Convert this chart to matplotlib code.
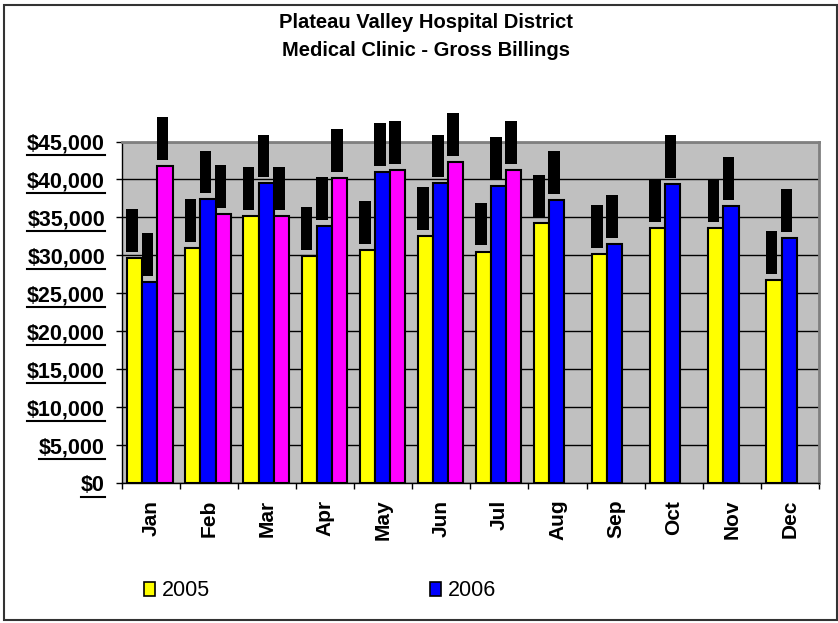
import numpy as np
import matplotlib
matplotlib.use('Agg')
import matplotlib.pyplot as plt
from matplotlib.lines import Line2D
from matplotlib.patches import Rectangle, Patch
from matplotlib.ticker import FuncFormatter, MultipleLocator
from matplotlib.transforms import IdentityTransform

plt.rcParams['font.family'] = ['Liberation Sans', 'DejaVu Sans']

months = ['Jan', 'Feb', 'Mar', 'Apr', 'May', 'Jun', 'Jul', 'Aug', 'Sep', 'Oct', 'Nov', 'Dec']
y2005 = [29700, 31000, 35200, 29950, 30700, 32600, 30500, 34200, 30200, 33600, 33600, 26800]
y2006 = [26500, 37400, 39500, 33900, 41000, 39500, 39200, 37300, 31500, 39400, 36500, 32300]
y2007 = [41800, 35500, 35200, 40200, 41300, 42350, 41300, np.nan, np.nan, np.nan, np.nan, np.nan]
series = ['2005', '2006', '2007']
colors = ['#FFFF00', '#0000FF', '#FF00FF']

fig = plt.figure(figsize=(8.38, 6.23), dpi=100)
ax = fig.add_axes([121.7 / 838, 1 - 483 / 623, (819 - 121.7) / 838, (483 - 141.5) / 623])
ax.set_facecolor('#C0C0C0')

x = np.arange(len(months))
w = 0.26
for k, (vals, c) in enumerate(zip([y2005, y2006, y2007], colors)):
    pos = x + (k - 1) * w - 0.015
    vals = np.array(vals, dtype=float)
    ax.bar(pos, vals, width=w, color=c, edgecolor='black', linewidth=1.5, zorder=3, label=series[k])
    # blacked-out data labels sitting above each bar
    ok = ~np.isnan(vals)
    lab = ax.bar(pos[ok] - 0.043, np.full(ok.sum(), 5600), bottom=vals[ok] + 800, width=0.2,
                 color='black', linewidth=0, zorder=4)
    for r in lab:
        r.set_clip_on(False)

ax.set_xlim(-0.5, 11.5)
ax.set_ylim(0, 45000)
ax.yaxis.set_major_locator(MultipleLocator(5000))
ax.yaxis.set_major_formatter(FuncFormatter(lambda v, p: '${:,.0f}'.format(v)))
ax.grid(axis='y', color='black', linewidth=1.0, zorder=1)
ax.set_axisbelow(True)

ax.set_xticks(x)
ax.set_xticklabels(months, rotation=90, fontweight='bold', fontsize=15)
ax.set_xticks(np.arange(-0.5, 12, 1), minor=True)
ax.tick_params(axis='x', which='major', length=0, pad=12)
ax.tick_params(axis='x', which='minor', length=4.5, width=1, direction='out')
ax.tick_params(axis='y', length=4.5, width=1, direction='out', pad=7.5, labelsize=15.5)
for t in ax.get_yticklabels():
    t.set_fontweight('bold')
for t in ax.get_xticklabels():
    t.set_va('top')

for s in ['top', 'right']:
    ax.spines[s].set_color('#808080')
    ax.spines[s].set_linewidth(2)
for s in ['left', 'bottom']:
    ax.spines[s].set_color('black')
    ax.spines[s].set_linewidth(1)

fig.text(426 / 838, 1 - 23 / 623, 'Plateau Valley Hospital District', ha='center', va='center',
         fontsize=14.5, fontweight='bold')
fig.text(426 / 838, 1 - 50 / 623, 'Medical Clinic - Gross Billings', ha='center', va='center',
         fontsize=14.5, fontweight='bold')

handles = [Patch(facecolor=colors[0], edgecolor='black', linewidth=1.2),
           Patch(facecolor=colors[1], edgecolor='black', linewidth=1.2)]
fig.legend(handles, series[:2], loc='center left', bbox_to_anchor=(144 / 838, 1 - 591 / 623),
           ncol=2, frameon=False, fontsize=15.5, borderpad=0, borderaxespad=0,
           handlelength=0.52, handleheight=0.65, handletextpad=0.33, columnspacing=10.2)

fig.add_artist(Rectangle((4 / 838, 3 / 623), 833 / 838, 615 / 623, transform=fig.transFigure,
                         fill=False, edgecolor='#333333', linewidth=1.5))

# underline the value labels
fig.canvas.draw()
lo, hi = ax.get_ylim()
for tick in ax.yaxis.get_major_ticks():
    t = tick.label1
    if not (lo - 1 <= tick.get_loc() <= hi + 1) or not t.get_text():
        continue
    bb = t.get_window_extent()
    fig.add_artist(Line2D([bb.x0, bb.x1], [bb.y0 - 0.5, bb.y0 - 0.5], transform=IdentityTransform(),
                          color='black', linewidth=1.5))

fig.savefig('out.png', dpi=100)
